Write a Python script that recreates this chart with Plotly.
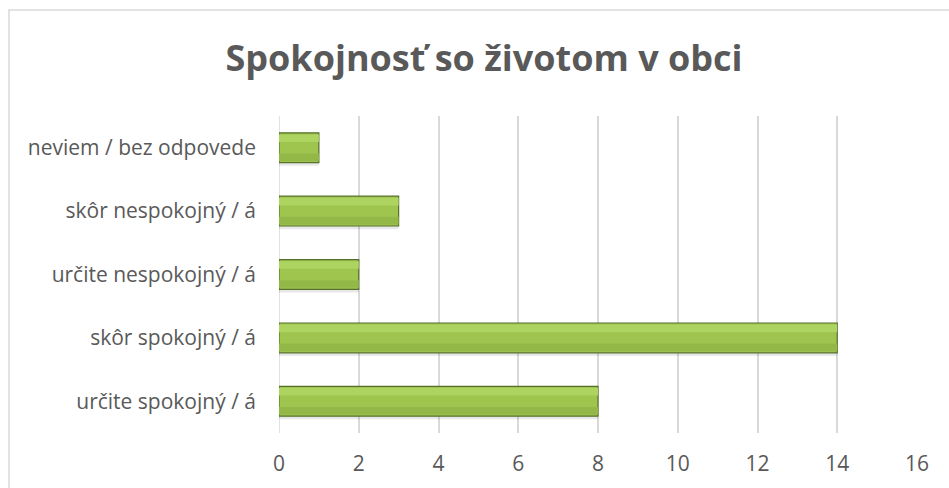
import plotly.graph_objects as go

categories = [
    "určite spokojný / á",
    "skôr spokojný / á",
    "určite nespokojný / á",
    "skôr nespokojný / á",
    "neviem / bez odpovede",
]
counts = [8, 14, 2, 3, 1]
x_ticks = [0, 2, 4, 6, 8, 10, 12, 14, 16]

W, H = 949, 488
L, R, T, B = 279, 32, 116, 55
pw, ph = W - L - R, H - T - B

BAR_W = 0.47
STRIP = 0.12

fig = go.Figure()

# soft shadow under the bars
fig.add_trace(go.Bar(
    x=counts, y=categories, orientation="h",
    width=BAR_W, offset=-BAR_W / 2 - 0.05,
    marker=dict(color="rgba(0,0,0,0.09)", line=dict(width=0)),
    hoverinfo="skip",
))
# main bar
fig.add_trace(go.Bar(
    x=counts, y=categories, orientation="h",
    width=BAR_W, offset=-BAR_W / 2,
    marker=dict(color="#9FC54F", line=dict(color="#56702B", width=1.2)),
))
# slightly darker lower strip / lighter upper strip to hint at the bevel gradient
fig.add_trace(go.Bar(
    x=counts, y=categories, orientation="h",
    width=STRIP, offset=-BAR_W / 2 + 0.025,
    marker=dict(color="#93B848", line=dict(width=0)),
    hoverinfo="skip",
))
fig.add_trace(go.Bar(
    x=counts, y=categories, orientation="h",
    width=STRIP, offset=BAR_W / 2 - STRIP - 0.025,
    marker=dict(color="#ADD361", line=dict(width=0)),
    hoverinfo="skip",
))

fig.update_layout(
    width=W,
    height=H,
    margin=dict(l=L, r=R, t=T, b=B),
    paper_bgcolor="white",
    plot_bgcolor="white",
    showlegend=False,
    barmode="overlay",
    font=dict(family="Open Sans, Liberation Sans, sans-serif", color="#595959", size=21),
    title=dict(
        text="<b>Spokojnosť so životom v obci</b>",
        x=484 / W,
        xanchor="center",
        y=1 - 58 / H,
        yanchor="middle",
        font=dict(size=36, color="#595959"),
    ),
    xaxis=dict(
        range=[0, 16],
        tickvals=x_ticks,
        showgrid=True,
        gridcolor="#D9D9D9",
        gridwidth=1.5,
        zeroline=False,
        showline=False,
        ticks="",
        ticklabelstandoff=16,
    ),
    yaxis=dict(
        showgrid=False,
        zeroline=False,
        showline=False,
        ticks="",
        ticklabelstandoff=22,
    ),
    shapes=[
        dict(
            type="line", xref="x", yref="paper", x0=0, x1=0, y0=0, y1=1,
            line=dict(color="#D9D9D9", width=1.5), layer="below",
        ),
        dict(
            type="rect", xref="paper", yref="paper",
            x0=(9 - L) / pw, x1=(W + 5 - L) / pw,
            y0=-(B + 5) / ph, y1=1 + (T - 10) / ph,
            line=dict(color="#D9D9D9", width=1.5),
        ),
    ],
)

fig.write_html(
    "out.html",
    config={"displayModeBar": False},
    post_script="document.body.style.margin='0';",
)
